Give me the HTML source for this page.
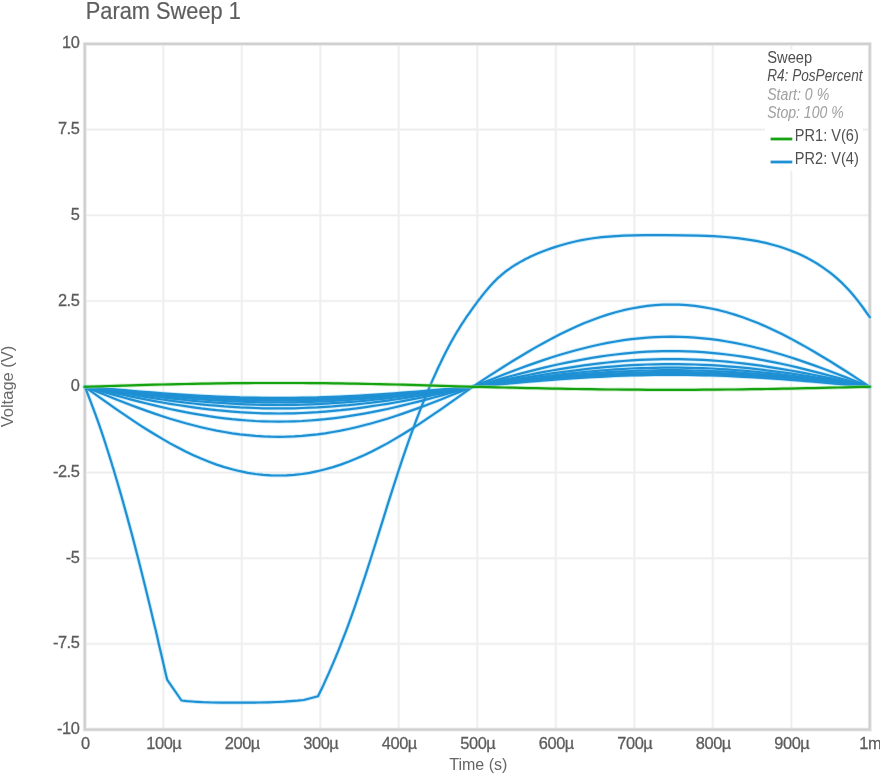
<!DOCTYPE html>
<html><head><meta charset="utf-8"><style>
html,body{margin:0;padding:0;background:#fff;}
body{width:880px;height:781px;overflow:hidden;position:relative;font-family:"Liberation Sans",sans-serif;}
svg{position:absolute;left:0;top:0;will-change:transform;}
</style></head><body>
<svg width="880" height="781" viewBox="0 0 880 781" font-family="Liberation Sans, sans-serif">
<defs><path id="g0" d="M84.8 386.8 L92.6 386.5 L100.3 386.3 L108.1 386.0 L115.8 385.8 L123.6 385.6 L131.3 385.4 L139.1 385.1 L146.8 384.9 L154.6 384.7 L162.4 384.5 L170.1 384.3 L177.9 384.2 L185.6 384.0 L193.4 383.8 L201.1 383.7 L208.9 383.6 L216.6 383.4 L224.4 383.3 L232.2 383.2 L239.9 383.2 L247.7 383.1 L255.4 383.0 L263.2 383.0 L270.9 383.0 L278.7 383.0 L286.5 383.0 L294.2 383.0 L302.0 383.0 L309.7 383.1 L317.5 383.2 L325.2 383.2 L333.0 383.3 L340.7 383.4 L348.5 383.6 L356.3 383.7 L364.0 383.8 L371.8 384.0 L379.5 384.2 L387.3 384.3 L395.0 384.5 L402.8 384.7 L410.5 384.9 L418.3 385.1 L426.1 385.4 L433.8 385.6 L441.6 385.8 L449.3 386.0 L457.1 386.3 L464.8 386.5 L472.6 386.8 L480.5 386.9 L488.5 387.1 L496.4 387.3 L504.4 387.5 L512.3 387.7 L520.3 387.9 L528.2 388.1 L536.1 388.2 L544.1 388.4 L552.0 388.6 L560.0 388.7 L567.9 388.9 L575.9 389.0 L583.8 389.1 L591.8 389.2 L599.7 389.4 L607.6 389.5 L615.6 389.5 L623.5 389.6 L631.5 389.7 L639.4 389.7 L647.4 389.8 L655.3 389.8 L663.3 389.8 L671.2 389.8 L679.1 389.8 L687.1 389.8 L695.0 389.8 L703.0 389.7 L710.9 389.7 L718.9 389.6 L726.8 389.5 L734.7 389.5 L742.7 389.4 L750.6 389.2 L758.6 389.1 L766.5 389.0 L774.5 388.9 L782.4 388.7 L790.4 388.6 L798.3 388.4 L806.2 388.2 L814.2 388.1 L822.1 387.9 L830.1 387.7 L838.0 387.5 L846.0 387.3 L853.9 387.1 L861.9 386.9 L869.8 386.8"/><path id="c1" d="M84.8 386.8 L92.6 392.3 L100.3 397.9 L108.1 403.4 L115.8 408.8 L123.6 414.2 L131.3 419.4 L139.1 424.6 L146.8 429.5 L154.6 434.3 L162.4 438.9 L170.1 443.4 L177.9 447.5 L185.6 451.5 L193.4 455.2 L201.1 458.6 L208.9 461.7 L216.6 464.6 L224.4 467.1 L232.2 469.3 L239.9 471.2 L247.7 472.8 L255.4 474.0 L263.2 474.8 L270.9 475.4 L278.7 475.5 L286.5 475.4 L294.2 474.8 L302.0 474.0 L309.7 472.8 L317.5 471.2 L325.2 469.3 L333.0 467.1 L340.7 464.6 L348.5 461.7 L356.3 458.6 L364.0 455.2 L371.8 451.5 L379.5 447.5 L387.3 443.4 L395.0 438.9 L402.8 434.3 L410.5 429.5 L418.3 424.6 L426.1 419.4 L433.8 414.2 L441.6 408.8 L449.3 403.4 L457.1 397.9 L464.8 392.3 L472.6 386.8 L480.5 381.6 L488.5 376.4 L496.4 371.3 L504.4 366.3 L512.3 361.3 L520.3 356.5 L528.2 351.7 L536.1 347.1 L544.1 342.7 L552.0 338.4 L560.0 334.3 L567.9 330.4 L575.9 326.8 L583.8 323.3 L591.8 320.2 L599.7 317.3 L607.6 314.6 L615.6 312.3 L623.5 310.2 L631.5 308.5 L639.4 307.1 L647.4 305.9 L655.3 305.1 L663.3 304.6 L671.2 304.5 L679.1 304.6 L687.1 305.1 L695.0 305.9 L703.0 307.1 L710.9 308.5 L718.9 310.2 L726.8 312.3 L734.7 314.6 L742.7 317.3 L750.6 320.2 L758.6 323.3 L766.5 326.8 L774.5 330.4 L782.4 334.3 L790.4 338.4 L798.3 342.7 L806.2 347.1 L814.2 351.7 L822.1 356.5 L830.1 361.3 L838.0 366.3 L846.0 371.3 L853.9 376.4 L861.9 381.6 L869.8 386.8"/><path id="c2" d="M84.8 386.8 L92.6 389.9 L100.3 393.0 L108.1 396.1 L115.8 399.2 L123.6 402.2 L131.3 405.2 L139.1 408.1 L146.8 410.9 L154.6 413.6 L162.4 416.2 L170.1 418.7 L177.9 421.0 L185.6 423.2 L193.4 425.3 L201.1 427.2 L208.9 429.0 L216.6 430.6 L224.4 432.0 L232.2 433.3 L239.9 434.4 L247.7 435.2 L255.4 435.9 L263.2 436.4 L270.9 436.7 L278.7 436.8 L286.5 436.7 L294.2 436.4 L302.0 435.9 L309.7 435.2 L317.5 434.4 L325.2 433.3 L333.0 432.0 L340.7 430.6 L348.5 429.0 L356.3 427.2 L364.0 425.3 L371.8 423.2 L379.5 421.0 L387.3 418.7 L395.0 416.2 L402.8 413.6 L410.5 410.9 L418.3 408.1 L426.1 405.2 L433.8 402.2 L441.6 399.2 L449.3 396.1 L457.1 393.0 L464.8 389.9 L472.6 386.8 L480.5 383.6 L488.5 380.5 L496.4 377.4 L504.4 374.3 L512.3 371.3 L520.3 368.3 L528.2 365.4 L536.1 362.6 L544.1 359.9 L552.0 357.3 L560.0 354.8 L567.9 352.5 L575.9 350.3 L583.8 348.2 L591.8 346.3 L599.7 344.5 L607.6 342.9 L615.6 341.5 L623.5 340.2 L631.5 339.1 L639.4 338.3 L647.4 337.6 L655.3 337.1 L663.3 336.8 L671.2 336.7 L679.1 336.8 L687.1 337.1 L695.0 337.6 L703.0 338.3 L710.9 339.1 L718.9 340.2 L726.8 341.5 L734.7 342.9 L742.7 344.5 L750.6 346.3 L758.6 348.2 L766.5 350.3 L774.5 352.5 L782.4 354.8 L790.4 357.3 L798.3 359.9 L806.2 362.6 L814.2 365.4 L822.1 368.3 L830.1 371.3 L838.0 374.3 L846.0 377.4 L853.9 380.5 L861.9 383.6 L869.8 386.8"/><path id="c3" d="M84.8 386.8 L92.6 388.9 L100.3 391.1 L108.1 393.3 L115.8 395.4 L123.6 397.5 L131.3 399.6 L139.1 401.6 L146.8 403.5 L154.6 405.4 L162.4 407.2 L170.1 409.0 L177.9 410.6 L185.6 412.2 L193.4 413.6 L201.1 414.9 L208.9 416.2 L216.6 417.3 L224.4 418.3 L232.2 419.2 L239.9 419.9 L247.7 420.5 L255.4 421.0 L263.2 421.3 L270.9 421.5 L278.7 421.6 L286.5 421.5 L294.2 421.3 L302.0 421.0 L309.7 420.5 L317.5 419.9 L325.2 419.2 L333.0 418.3 L340.7 417.3 L348.5 416.2 L356.3 414.9 L364.0 413.6 L371.8 412.2 L379.5 410.6 L387.3 409.0 L395.0 407.2 L402.8 405.4 L410.5 403.5 L418.3 401.6 L426.1 399.6 L433.8 397.5 L441.6 395.4 L449.3 393.3 L457.1 391.1 L464.8 388.9 L472.6 386.8 L480.5 384.5 L488.5 382.3 L496.4 380.1 L504.4 377.9 L512.3 375.7 L520.3 373.6 L528.2 371.6 L536.1 369.6 L544.1 367.6 L552.0 365.8 L560.0 364.0 L567.9 362.3 L575.9 360.8 L583.8 359.3 L591.8 357.9 L599.7 356.6 L607.6 355.5 L615.6 354.5 L623.5 353.6 L631.5 352.8 L639.4 352.2 L647.4 351.7 L655.3 351.4 L663.3 351.2 L671.2 351.1 L679.1 351.2 L687.1 351.4 L695.0 351.7 L703.0 352.2 L710.9 352.8 L718.9 353.6 L726.8 354.5 L734.7 355.5 L742.7 356.6 L750.6 357.9 L758.6 359.3 L766.5 360.8 L774.5 362.3 L782.4 364.0 L790.4 365.8 L798.3 367.6 L806.2 369.6 L814.2 371.6 L822.1 373.6 L830.1 375.7 L838.0 377.9 L846.0 380.1 L853.9 382.3 L861.9 384.5 L869.8 386.8"/><path id="c4" d="M84.8 386.8 L92.6 388.4 L100.3 390.1 L108.1 391.8 L115.8 393.4 L123.6 395.0 L131.3 396.6 L139.1 398.1 L146.8 399.6 L154.6 401.1 L162.4 402.5 L170.1 403.8 L177.9 405.0 L185.6 406.2 L193.4 407.3 L201.1 408.4 L208.9 409.3 L216.6 410.2 L224.4 410.9 L232.2 411.6 L239.9 412.2 L247.7 412.6 L255.4 413.0 L263.2 413.3 L270.9 413.4 L278.7 413.5 L286.5 413.4 L294.2 413.3 L302.0 413.0 L309.7 412.6 L317.5 412.2 L325.2 411.6 L333.0 410.9 L340.7 410.2 L348.5 409.3 L356.3 408.4 L364.0 407.3 L371.8 406.2 L379.5 405.0 L387.3 403.8 L395.0 402.5 L402.8 401.1 L410.5 399.6 L418.3 398.1 L426.1 396.6 L433.8 395.0 L441.6 393.4 L449.3 391.8 L457.1 390.1 L464.8 388.4 L472.6 386.8 L480.5 385.0 L488.5 383.3 L496.4 381.6 L504.4 379.9 L512.3 378.2 L520.3 376.6 L528.2 375.0 L536.1 373.4 L544.1 371.9 L552.0 370.5 L560.0 369.1 L567.9 367.8 L575.9 366.6 L583.8 365.4 L591.8 364.3 L599.7 363.4 L607.6 362.5 L615.6 361.7 L623.5 361.0 L631.5 360.4 L639.4 359.9 L647.4 359.6 L655.3 359.3 L663.3 359.1 L671.2 359.1 L679.1 359.1 L687.1 359.3 L695.0 359.6 L703.0 359.9 L710.9 360.4 L718.9 361.0 L726.8 361.7 L734.7 362.5 L742.7 363.4 L750.6 364.3 L758.6 365.4 L766.5 366.6 L774.5 367.8 L782.4 369.1 L790.4 370.5 L798.3 371.9 L806.2 373.4 L814.2 375.0 L822.1 376.6 L830.1 378.2 L838.0 379.9 L846.0 381.6 L853.9 383.3 L861.9 385.0 L869.8 386.8"/><path id="c5" d="M84.8 386.8 L92.6 388.1 L100.3 389.5 L108.1 390.8 L115.8 392.1 L123.6 393.4 L131.3 394.7 L139.1 396.0 L146.8 397.2 L154.6 398.4 L162.4 399.5 L170.1 400.6 L177.9 401.6 L185.6 402.6 L193.4 403.5 L201.1 404.3 L208.9 405.1 L216.6 405.7 L224.4 406.4 L232.2 406.9 L239.9 407.4 L247.7 407.7 L255.4 408.0 L263.2 408.3 L270.9 408.4 L278.7 408.4 L286.5 408.4 L294.2 408.3 L302.0 408.0 L309.7 407.7 L317.5 407.4 L325.2 406.9 L333.0 406.4 L340.7 405.7 L348.5 405.1 L356.3 404.3 L364.0 403.5 L371.8 402.6 L379.5 401.6 L387.3 400.6 L395.0 399.5 L402.8 398.4 L410.5 397.2 L418.3 396.0 L426.1 394.7 L433.8 393.4 L441.6 392.1 L449.3 390.8 L457.1 389.5 L464.8 388.1 L472.6 386.8 L480.5 385.3 L488.5 383.9 L496.4 382.5 L504.4 381.1 L512.3 379.8 L520.3 378.4 L528.2 377.1 L536.1 375.8 L544.1 374.6 L552.0 373.4 L560.0 372.3 L567.9 371.3 L575.9 370.3 L583.8 369.3 L591.8 368.4 L599.7 367.6 L607.6 366.9 L615.6 366.3 L623.5 365.7 L631.5 365.2 L639.4 364.8 L647.4 364.5 L655.3 364.3 L663.3 364.2 L671.2 364.1 L679.1 364.2 L687.1 364.3 L695.0 364.5 L703.0 364.8 L710.9 365.2 L718.9 365.7 L726.8 366.3 L734.7 366.9 L742.7 367.6 L750.6 368.4 L758.6 369.3 L766.5 370.3 L774.5 371.3 L782.4 372.3 L790.4 373.4 L798.3 374.6 L806.2 375.8 L814.2 377.1 L822.1 378.4 L830.1 379.8 L838.0 381.1 L846.0 382.5 L853.9 383.9 L861.9 385.3 L869.8 386.8"/><path id="c6" d="M84.8 386.8 L92.6 387.9 L100.3 389.0 L108.1 390.2 L115.8 391.3 L123.6 392.4 L131.3 393.5 L139.1 394.5 L146.8 395.5 L154.6 396.5 L162.4 397.5 L170.1 398.4 L177.9 399.2 L185.6 400.0 L193.4 400.8 L201.1 401.5 L208.9 402.1 L216.6 402.7 L224.4 403.2 L232.2 403.7 L239.9 404.1 L247.7 404.4 L255.4 404.7 L263.2 404.8 L270.9 404.9 L278.7 405.0 L286.5 404.9 L294.2 404.8 L302.0 404.7 L309.7 404.4 L317.5 404.1 L325.2 403.7 L333.0 403.2 L340.7 402.7 L348.5 402.1 L356.3 401.5 L364.0 400.8 L371.8 400.0 L379.5 399.2 L387.3 398.4 L395.0 397.5 L402.8 396.5 L410.5 395.5 L418.3 394.5 L426.1 393.5 L433.8 392.4 L441.6 391.3 L449.3 390.2 L457.1 389.0 L464.8 387.9 L472.6 386.8 L480.5 385.5 L488.5 384.4 L496.4 383.2 L504.4 382.0 L512.3 380.8 L520.3 379.7 L528.2 378.6 L536.1 377.5 L544.1 376.5 L552.0 375.5 L560.0 374.6 L567.9 373.6 L575.9 372.8 L583.8 372.0 L591.8 371.3 L599.7 370.6 L607.6 370.0 L615.6 369.4 L623.5 369.0 L631.5 368.5 L639.4 368.2 L647.4 368.0 L655.3 367.8 L663.3 367.6 L671.2 367.6 L679.1 367.6 L687.1 367.8 L695.0 368.0 L703.0 368.2 L710.9 368.5 L718.9 369.0 L726.8 369.4 L734.7 370.0 L742.7 370.6 L750.6 371.3 L758.6 372.0 L766.5 372.8 L774.5 373.6 L782.4 374.6 L790.4 375.5 L798.3 376.5 L806.2 377.5 L814.2 378.6 L822.1 379.7 L830.1 380.8 L838.0 382.0 L846.0 383.2 L853.9 384.4 L861.9 385.5 L869.8 386.8"/><path id="c7" d="M84.8 386.8 L92.6 387.7 L100.3 388.7 L108.1 389.7 L115.8 390.7 L123.6 391.6 L131.3 392.5 L139.1 393.4 L146.8 394.3 L154.6 395.2 L162.4 396.0 L170.1 396.8 L177.9 397.5 L185.6 398.2 L193.4 398.9 L201.1 399.5 L208.9 400.0 L216.6 400.5 L224.4 401.0 L232.2 401.4 L239.9 401.7 L247.7 402.0 L255.4 402.2 L263.2 402.4 L270.9 402.5 L278.7 402.5 L286.5 402.5 L294.2 402.4 L302.0 402.2 L309.7 402.0 L317.5 401.7 L325.2 401.4 L333.0 401.0 L340.7 400.5 L348.5 400.0 L356.3 399.5 L364.0 398.9 L371.8 398.2 L379.5 397.5 L387.3 396.8 L395.0 396.0 L402.8 395.2 L410.5 394.3 L418.3 393.4 L426.1 392.5 L433.8 391.6 L441.6 390.7 L449.3 389.7 L457.1 388.7 L464.8 387.7 L472.6 386.8 L480.5 385.7 L488.5 384.7 L496.4 383.6 L504.4 382.6 L512.3 381.6 L520.3 380.6 L528.2 379.7 L536.1 378.8 L544.1 377.9 L552.0 377.0 L560.0 376.2 L567.9 375.4 L575.9 374.7 L583.8 374.0 L591.8 373.3 L599.7 372.8 L607.6 372.2 L615.6 371.7 L623.5 371.3 L631.5 371.0 L639.4 370.7 L647.4 370.5 L655.3 370.3 L663.3 370.2 L671.2 370.2 L679.1 370.2 L687.1 370.3 L695.0 370.5 L703.0 370.7 L710.9 371.0 L718.9 371.3 L726.8 371.7 L734.7 372.2 L742.7 372.8 L750.6 373.3 L758.6 374.0 L766.5 374.7 L774.5 375.4 L782.4 376.2 L790.4 377.0 L798.3 377.9 L806.2 378.8 L814.2 379.7 L822.1 380.6 L830.1 381.6 L838.0 382.6 L846.0 383.6 L853.9 384.7 L861.9 385.7 L869.8 386.8"/><path id="c8" d="M84.8 386.8 L92.6 387.6 L100.3 388.5 L108.1 389.3 L115.8 390.2 L123.6 391.0 L131.3 391.8 L139.1 392.6 L146.8 393.4 L154.6 394.2 L162.4 394.9 L170.1 395.6 L177.9 396.2 L185.6 396.8 L193.4 397.4 L201.1 397.9 L208.9 398.4 L216.6 398.9 L224.4 399.3 L232.2 399.6 L239.9 399.9 L247.7 400.2 L255.4 400.3 L263.2 400.5 L270.9 400.6 L278.7 400.6 L286.5 400.6 L294.2 400.5 L302.0 400.3 L309.7 400.2 L317.5 399.9 L325.2 399.6 L333.0 399.3 L340.7 398.9 L348.5 398.4 L356.3 397.9 L364.0 397.4 L371.8 396.8 L379.5 396.2 L387.3 395.6 L395.0 394.9 L402.8 394.2 L410.5 393.4 L418.3 392.6 L426.1 391.8 L433.8 391.0 L441.6 390.2 L449.3 389.3 L457.1 388.5 L464.8 387.6 L472.6 386.8 L480.5 385.8 L488.5 384.9 L496.4 384.0 L504.4 383.1 L512.3 382.2 L520.3 381.4 L528.2 380.5 L536.1 379.7 L544.1 378.9 L552.0 378.2 L560.0 377.4 L567.9 376.7 L575.9 376.1 L583.8 375.5 L591.8 374.9 L599.7 374.4 L607.6 373.9 L615.6 373.5 L623.5 373.2 L631.5 372.8 L639.4 372.6 L647.4 372.4 L655.3 372.2 L663.3 372.2 L671.2 372.1 L679.1 372.2 L687.1 372.2 L695.0 372.4 L703.0 372.6 L710.9 372.8 L718.9 373.2 L726.8 373.5 L734.7 373.9 L742.7 374.4 L750.6 374.9 L758.6 375.5 L766.5 376.1 L774.5 376.7 L782.4 377.4 L790.4 378.2 L798.3 378.9 L806.2 379.7 L814.2 380.5 L822.1 381.4 L830.1 382.2 L838.0 383.1 L846.0 384.0 L853.9 384.9 L861.9 385.8 L869.8 386.8"/><path id="c9" d="M84.8 386.8 L92.6 387.5 L100.3 388.3 L108.1 389.1 L115.8 389.8 L123.6 390.6 L131.3 391.3 L139.1 392.0 L146.8 392.7 L154.6 393.4 L162.4 394.0 L170.1 394.6 L177.9 395.2 L185.6 395.7 L193.4 396.3 L201.1 396.7 L208.9 397.2 L216.6 397.6 L224.4 397.9 L232.2 398.2 L239.9 398.5 L247.7 398.7 L255.4 398.9 L263.2 399.0 L270.9 399.1 L278.7 399.1 L286.5 399.1 L294.2 399.0 L302.0 398.9 L309.7 398.7 L317.5 398.5 L325.2 398.2 L333.0 397.9 L340.7 397.6 L348.5 397.2 L356.3 396.7 L364.0 396.3 L371.8 395.7 L379.5 395.2 L387.3 394.6 L395.0 394.0 L402.8 393.4 L410.5 392.7 L418.3 392.0 L426.1 391.3 L433.8 390.6 L441.6 389.8 L449.3 389.1 L457.1 388.3 L464.8 387.5 L472.6 386.8 L480.5 385.9 L488.5 385.1 L496.4 384.3 L504.4 383.5 L512.3 382.7 L520.3 381.9 L528.2 381.2 L536.1 380.4 L544.1 379.7 L552.0 379.1 L560.0 378.4 L567.9 377.8 L575.9 377.2 L583.8 376.7 L591.8 376.2 L599.7 375.7 L607.6 375.3 L615.6 374.9 L623.5 374.6 L631.5 374.3 L639.4 374.1 L647.4 373.9 L655.3 373.8 L663.3 373.7 L671.2 373.7 L679.1 373.7 L687.1 373.8 L695.0 373.9 L703.0 374.1 L710.9 374.3 L718.9 374.6 L726.8 374.9 L734.7 375.3 L742.7 375.7 L750.6 376.2 L758.6 376.7 L766.5 377.2 L774.5 377.8 L782.4 378.4 L790.4 379.1 L798.3 379.7 L806.2 380.4 L814.2 381.2 L822.1 381.9 L830.1 382.7 L838.0 383.5 L846.0 384.3 L853.9 385.1 L861.9 385.9 L869.8 386.8"/><path id="c10" d="M84.8 386.8 L92.6 387.4 L100.3 388.1 L108.1 388.8 L115.8 389.5 L123.6 390.2 L131.3 390.9 L139.1 391.5 L146.8 392.1 L154.6 392.7 L162.4 393.3 L170.1 393.9 L177.9 394.4 L185.6 394.9 L193.4 395.3 L201.1 395.8 L208.9 396.2 L216.6 396.5 L224.4 396.8 L232.2 397.1 L239.9 397.4 L247.7 397.5 L255.4 397.7 L263.2 397.8 L270.9 397.9 L278.7 397.9 L286.5 397.9 L294.2 397.8 L302.0 397.7 L309.7 397.5 L317.5 397.4 L325.2 397.1 L333.0 396.8 L340.7 396.5 L348.5 396.2 L356.3 395.8 L364.0 395.3 L371.8 394.9 L379.5 394.4 L387.3 393.9 L395.0 393.3 L402.8 392.7 L410.5 392.1 L418.3 391.5 L426.1 390.9 L433.8 390.2 L441.6 389.5 L449.3 388.8 L457.1 388.1 L464.8 387.4 L472.6 386.8 L480.5 386.0 L488.5 385.3 L496.4 384.5 L504.4 383.8 L512.3 383.1 L520.3 382.4 L528.2 381.7 L536.1 381.1 L544.1 380.4 L552.0 379.8 L560.0 379.2 L567.9 378.7 L575.9 378.1 L583.8 377.6 L591.8 377.2 L599.7 376.8 L607.6 376.4 L615.6 376.0 L623.5 375.7 L631.5 375.5 L639.4 375.3 L647.4 375.1 L655.3 375.0 L663.3 374.9 L671.2 374.9 L679.1 374.9 L687.1 375.0 L695.0 375.1 L703.0 375.3 L710.9 375.5 L718.9 375.7 L726.8 376.0 L734.7 376.4 L742.7 376.8 L750.6 377.2 L758.6 377.6 L766.5 378.1 L774.5 378.7 L782.4 379.2 L790.4 379.8 L798.3 380.4 L806.2 381.1 L814.2 381.7 L822.1 382.4 L830.1 383.1 L838.0 383.8 L846.0 384.5 L853.9 385.3 L861.9 386.0 L869.8 386.8"/><path id="c0" d="M84.8 386.7 L86.2 390.1 L87.5 393.4 L88.8 396.8 L90.1 400.2 L92.9 407.7 L95.7 415.1 L98.4 422.6 L101.0 430.2 L103.5 437.6 L105.9 445.0 L108.3 452.5 L110.6 459.9 L111.6 463.0 L112.5 466.1 L113.5 469.2 L114.4 472.2 L120.7 493.6 L126.7 515.1 L132.5 536.6 L138.1 558.3 L142.3 574.9 L146.4 591.6 L150.5 608.4 L154.4 625.1 L155.6 629.8 L156.7 634.5 L157.8 639.2 L158.8 643.9 L160.9 652.8 L163.0 661.7 L165.0 670.7 L167.1 679.6 L181.5 700.5 L186.7 701.1 L192.0 701.5 L197.2 701.9 L202.5 702.2 L211.9 702.5 L221.2 702.7 L230.6 702.7 L240.0 702.7 L249.4 702.6 L258.8 702.5 L268.1 702.3 L277.5 702.0 L284.1 701.7 L290.6 701.2 L297.2 700.7 L303.8 700.0 L318.0 696.3 L323.5 684.9 L328.7 673.4 L333.7 661.9 L336.2 655.8 L338.7 649.8 L341.1 643.7 L346.0 631.1 L350.7 618.4 L355.2 605.6 L360.5 590.0 L365.7 574.3 L370.8 558.5 L374.9 545.5 L379.0 532.4 L383.1 519.4 L388.2 502.9 L393.5 486.4 L398.8 470.0 L400.6 464.6 L402.4 459.2 L404.3 453.7 L406.1 448.3 L408.0 442.9 L409.9 437.5 L411.3 433.6 L412.7 429.8 L414.2 425.9 L415.7 421.7 L417.3 417.5 L418.9 413.3 L420.2 409.9 L421.6 406.5 L422.9 403.2 L425.4 397.0 L428.0 390.8 L430.6 384.6 L432.9 379.4 L435.3 374.1 L437.7 368.8 L439.1 365.8 L440.6 362.8 L442.0 359.8 L443.6 356.5 L445.2 353.3 L446.9 350.1 L450.2 343.7 L453.7 337.5 L457.3 331.3 L458.9 328.8 L460.5 326.2 L462.1 323.7 L463.7 321.3 L465.2 319.0 L466.7 316.7 L468.4 314.3 L470.2 311.8 L471.9 309.4 L473.0 307.8 L474.2 306.2 L475.4 304.6 L477.0 302.4 L478.6 300.2 L480.3 298.1 L481.8 296.1 L483.4 294.1 L485.0 292.1 L486.7 290.1 L488.3 288.2 L490.0 286.2 L491.8 284.3 L493.5 282.4 L495.4 280.6 L497.0 278.9 L498.7 277.3 L500.5 275.8 L502.1 274.4 L503.7 273.1 L505.4 271.7 L507.0 270.5 L508.7 269.3 L510.4 268.1 L512.1 266.9 L513.8 265.8 L515.5 264.7 L517.3 263.7 L519.1 262.6 L520.9 261.6 L522.6 260.7 L524.3 259.7 L526.0 258.8 L527.4 258.2 L528.8 257.5 L530.2 256.8 L534.1 255.0 L538.0 253.3 L542.0 251.7 L546.5 250.0 L551.1 248.4 L555.6 246.9 L560.1 245.5 L564.5 244.2 L569.0 243.0 L573.2 242.0 L577.3 241.0 L581.5 240.2 L588.1 239.0 L594.8 238.0 L601.6 237.2 L612.4 236.3 L623.3 235.6 L634.2 235.3 L645.2 235.2 L656.2 235.1 L667.2 235.2 L682.7 235.3 L698.2 235.6 L713.6 236.2 L725.6 237.0 L737.6 238.2 L749.5 239.8 L757.6 241.2 L765.7 242.9 L773.6 245.0 L779.1 246.5 L784.4 248.3 L789.7 250.2 L793.3 251.6 L796.8 253.0 L800.2 254.6 L803.8 256.3 L807.4 258.1 L810.9 260.0 L814.6 262.1 L818.2 264.3 L821.7 266.7 L825.9 269.6 L830.1 272.7 L834.1 275.9 L837.0 278.4 L839.7 280.9 L842.5 283.4 L845.2 286.2 L847.9 289.1 L850.6 292.0 L853.8 295.8 L856.9 299.6 L860.0 303.6 L863.3 308.0 L866.5 312.6 L869.8 317.2"/></defs>
<text x="85.8" y="19.2" font-size="23.2" fill="#5e5e5e" stroke="#5e5e5e" stroke-width="0.2" textLength="155" lengthAdjust="spacingAndGlyphs">Param Sweep 1</text>
<path d="M163.3 43.9V729.6 M241.8 43.9V729.6 M320.3 43.9V729.6 M398.8 43.9V729.6 M477.3 43.9V729.6 M555.8 43.9V729.6 M634.3 43.9V729.6 M712.8 43.9V729.6 M791.3 43.9V729.6 M84.8 129.6H869.8 M84.8 215.3H869.8 M84.8 301.0H869.8 M84.8 472.5H869.8 M84.8 558.2H869.8 M84.8 643.9H869.8" stroke="#f5f5f5" stroke-width="2.6" fill="none"/>
<path d="M163.3 43.9V729.6 M241.8 43.9V729.6 M320.3 43.9V729.6 M398.8 43.9V729.6 M477.3 43.9V729.6 M555.8 43.9V729.6 M634.3 43.9V729.6 M712.8 43.9V729.6 M791.3 43.9V729.6 M84.8 129.6H869.8 M84.8 215.3H869.8 M84.8 301.0H869.8 M84.8 472.5H869.8 M84.8 558.2H869.8 M84.8 643.9H869.8" stroke="#ededed" stroke-width="1.0" fill="none"/>
<rect x="84.8" y="43.9" width="785.0" height="685.7" fill="none" stroke="#e8e8e8" stroke-width="3.8"/>
<rect x="84.8" y="43.9" width="785.0" height="685.7" fill="none" stroke="#cfcfcf" stroke-width="2.0"/>
<g font-size="16.4" fill="#5c5c5c" stroke="#5c5c5c" stroke-width="0.28" letter-spacing="-0.45"><text x="79.4" y="48.4" text-anchor="end">10</text><text x="79.4" y="134.1" text-anchor="end">7.5</text><text x="79.4" y="219.8" text-anchor="end">5</text><text x="79.4" y="305.5" text-anchor="end">2.5</text><text x="79.4" y="391.2" text-anchor="end">0</text><text x="79.4" y="477.0" text-anchor="end">-2.5</text><text x="79.4" y="562.7" text-anchor="end">-5</text><text x="79.4" y="648.4" text-anchor="end">-7.5</text><text x="79.4" y="734.1" text-anchor="end">-10</text><text x="85.3" y="749.3" text-anchor="middle">0</text><text x="163.8" y="749.3" text-anchor="middle">100µ</text><text x="242.3" y="749.3" text-anchor="middle">200µ</text><text x="320.8" y="749.3" text-anchor="middle">300µ</text><text x="399.3" y="749.3" text-anchor="middle">400µ</text><text x="477.8" y="749.3" text-anchor="middle">500µ</text><text x="556.3" y="749.3" text-anchor="middle">600µ</text><text x="634.8" y="749.3" text-anchor="middle">700µ</text><text x="713.3" y="749.3" text-anchor="middle">800µ</text><text x="791.8" y="749.3" text-anchor="middle">900µ</text><text x="870.3" y="749.3" text-anchor="middle">1m</text></g>
<text x="478.3" y="770" font-size="16" fill="#666" text-anchor="middle">Time (s)</text>
<text transform="translate(13.3,386.5) rotate(-90)" font-size="16.5" fill="#6a6a6a" text-anchor="middle">Voltage (V)</text>
<g fill="none" stroke-linejoin="round" stroke-linecap="round">
<g stroke="#a2dcf8" stroke-opacity="0.55" stroke-width="4.0"><use href="#c0"/><use href="#c1"/><use href="#c2"/><use href="#c3"/><use href="#c4"/><use href="#c5"/><use href="#c6"/><use href="#c7"/><use href="#c8"/><use href="#c9"/><use href="#c10"/></g>
<g stroke="#1e90d3" stroke-width="2.2"><use href="#c0"/><use href="#c1"/><use href="#c2"/><use href="#c3"/><use href="#c4"/><use href="#c5"/><use href="#c6"/><use href="#c7"/><use href="#c8"/><use href="#c9"/><use href="#c10"/></g>
<g stroke="#a8dca0" stroke-opacity="0.55" stroke-width="4.0"><use href="#g0"/></g>
<g stroke="#16a312" stroke-width="2.2"><use href="#g0"/></g>
</g>
<rect x="765" y="49.5" width="98" height="121" fill="#fff"/>
<g font-size="16.7" fill="#505050">
<text x="767.2" y="62.5" textLength="45" lengthAdjust="spacingAndGlyphs">Sweep</text>
<text x="767.2" y="81.2" font-style="italic" textLength="95.3" lengthAdjust="spacingAndGlyphs">R4: PosPercent</text>
<text x="767.2" y="99.7" font-style="italic" fill="#a0a0a0" textLength="62" lengthAdjust="spacingAndGlyphs">Start: 0 %</text>
<text x="767.2" y="118" font-style="italic" fill="#a0a0a0" textLength="76.5" lengthAdjust="spacingAndGlyphs">Stop: 100 %</text>
<text x="794.8" y="140.9" textLength="64" lengthAdjust="spacingAndGlyphs">PR1: V(6)</text>
<text x="794.8" y="164.2" textLength="64" lengthAdjust="spacingAndGlyphs">PR2: V(4)</text>
</g>
<path d="M770.6 139H792.3" stroke="#16a312" stroke-width="2.8"/>
<path d="M770.6 162H792.3" stroke="#1e90d3" stroke-width="2.8"/>
</svg>
</body></html>
